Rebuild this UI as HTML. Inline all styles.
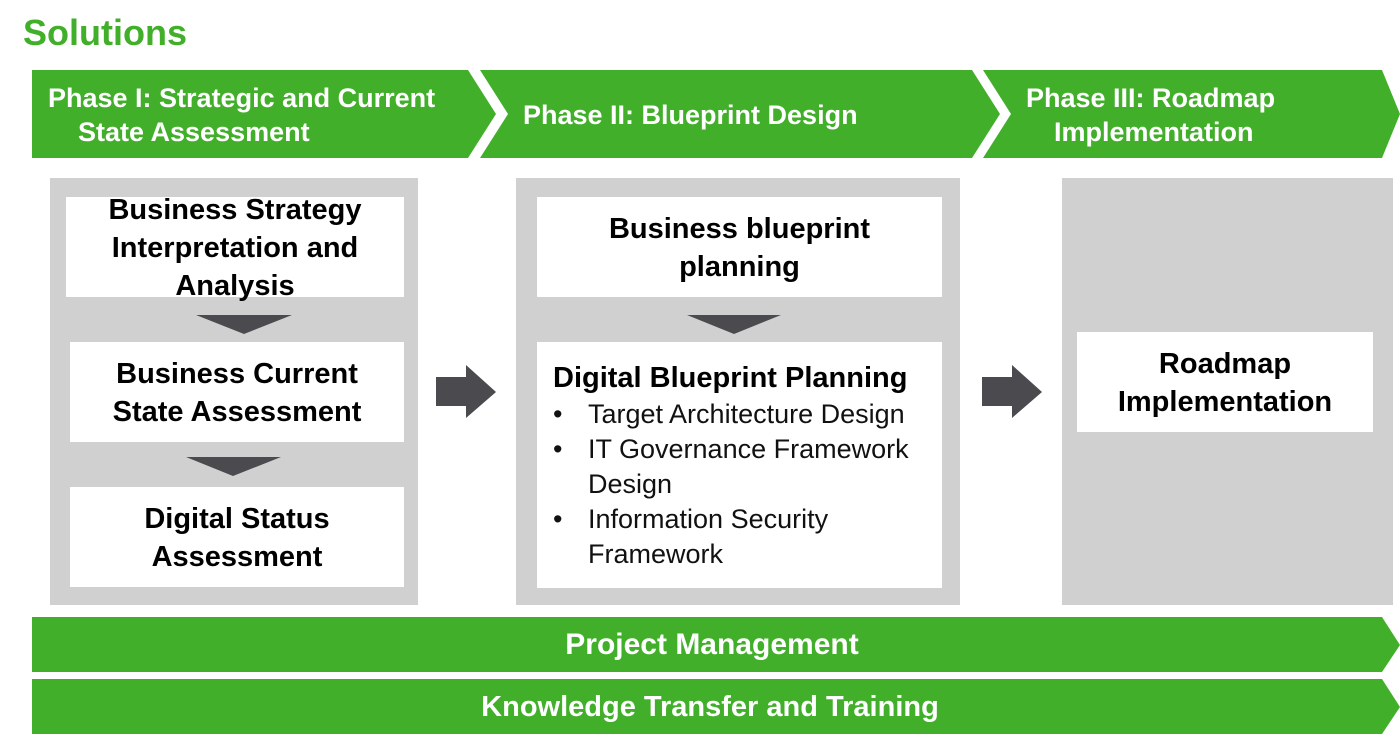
<!DOCTYPE html>
<html><head><style>
body{margin:0;width:1400px;height:745px;background:#fff;position:relative;overflow:hidden;font-family:"Liberation Sans",sans-serif}
.t{position:absolute;font-weight:bold;text-align:center;color:#000;font-size:29px;line-height:38px;white-space:nowrap}
.w{position:absolute;color:#fff;font-weight:bold;font-size:27px;line-height:34px;white-space:nowrap}
</style></head><body>
<svg width="1400" height="745" style="position:absolute;left:0;top:0">
<g fill="#42AF2A">
<polygon points="32,70 468,70 496,114 468,158 32,158"/>
<polygon points="480,70 972,70 1000,114 972,158 480,158 508,114"/>
<polygon points="983,70 1382,70 1400,114 1382,158 983,158 1011,114"/>
<polygon points="32,617 1382,617 1400,645 1382,672 32,672"/>
<polygon points="32,679 1382,679 1400,707 1382,734 32,734"/>
</g>
<g fill="#d0d0d0">
<rect x="50" y="178" width="368" height="427"/>
<rect x="516" y="178" width="444" height="427"/>
<rect x="1062" y="178" width="331" height="427"/>
</g>
<g fill="#fff">
<rect x="66" y="197" width="338" height="100"/>
<rect x="70" y="342" width="334" height="100"/>
<rect x="70" y="487" width="334" height="100"/>
<rect x="537" y="197" width="405" height="100"/>
<rect x="537" y="342" width="405" height="246"/>
<rect x="1077" y="332" width="296" height="100"/>
</g>
<g fill="#4a4a4f">
<polygon points="196,315 292,315 244,334"/>
<polygon points="186,457 281,457 233,476"/>
<polygon points="687,315 781,315 734,334"/>
<polygon points="436,377 466,377 466,365 496,392 466,418 466,406 436,406"/>
<polygon points="982,377 1012,377 1012,365 1042,392 1012,418 1012,406 982,406"/>
</g>
</svg>
<div style="position:absolute;left:23px;top:12px;color:#42AF2A;font-weight:bold;font-size:36px">Solutions</div>
<div class="w" style="left:48px;top:81px">Phase I: Strategic and Current</div>
<div class="w" style="left:78px;top:115px">State Assessment</div>
<div class="w" style="left:523px;top:98px">Phase II: Blueprint Design</div>
<div class="w" style="left:1026px;top:81px">Phase III: Roadmap</div>
<div class="w" style="left:1054px;top:115px">Implementation</div>
<div class="t" style="left:66px;top:191px;width:338px">Business Strategy<br>Interpretation and<br>Analysis</div>
<div class="t" style="left:70px;top:355px;width:334px">Business Current<br>State Assessment</div>
<div class="t" style="left:70px;top:500px;width:334px">Digital Status<br>Assessment</div>
<div class="t" style="left:537px;top:210px;width:405px">Business blueprint<br>planning</div>
<div class="t" style="left:1077px;top:345px;width:296px">Roadmap<br>Implementation</div>
<div style="position:absolute;left:553px;top:360px;font-size:29px;line-height:36px;color:#000;font-weight:bold;white-space:nowrap">Digital Blueprint Planning</div>
<div style="position:absolute;left:553px;top:397px;font-size:27px;line-height:35px;color:#111;white-space:nowrap">
<div><span style="display:inline-block;width:35px">•</span>Target Architecture Design</div>
<div><span style="display:inline-block;width:35px">•</span>IT Governance Framework</div>
<div style="padding-left:35px">Design</div>
<div><span style="display:inline-block;width:35px">•</span>Information Security</div>
<div style="padding-left:35px">Framework</div>
</div>
<div class="w" style="left:32px;width:1360px;text-align:center;top:628px;font-size:30px">Project Management</div>
<div class="w" style="left:32px;width:1356px;text-align:center;top:690px;font-size:29px">Knowledge Transfer and Training</div>
</body></html>
